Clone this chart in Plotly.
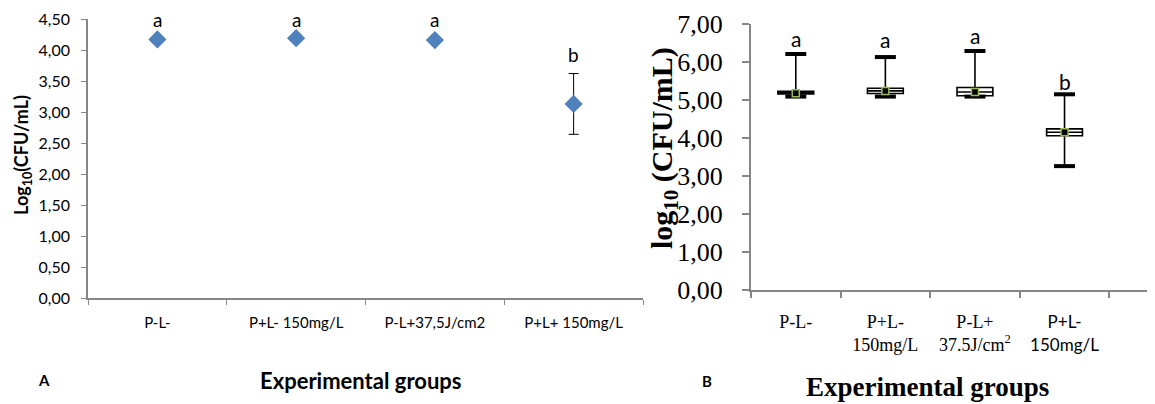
import plotly.graph_objects as go

# ---------------- data ----------------
groups_a = ["P-L-", "P+L- 150mg/L", "P-L+37,5J/cm2", "P+L+ 150mg/L"]
mean_a = [4.17, 4.19, 4.16, 3.13]
err_a = [0.02, 0.03, 0.02, 0.49]
letters_a = ["a", "a", "a", "b"]
letter_y_a = [4.50, 4.50, 4.50, 3.92]

groups_b = ["P-L-", "P+L-\n150mg/L", "P-L+\n37.5J/cm²", "P+L-\n150mg/L"]
lower_b = [5.09, 5.09, 5.09, 3.26]
q1_b = [5.16, 5.17, 5.11, 4.06]
center_b = [5.18, 5.24, 5.21, 4.15]
q3_b = [5.23, 5.31, 5.33, 4.24]
upper_b = [6.21, 6.13, 6.29, 5.15]
letters_b = ["a", "a", "a", "b"]
letter_y_b = [6.63, 6.58, 6.71, 5.50]

yticks_a = [0, 0.5, 1, 1.5, 2, 2.5, 3, 3.5, 4, 4.5]
yticks_b = [0, 1, 2, 3, 4, 5, 6, 7]

# ---------------- figure ----------------
OFF = 8                      # default page body margin
W, H = 1155 - OFF, 404 - OFF
fig = go.Figure()

pos_a = list(range(1, len(groups_a) + 1))
pos_b = list(range(1, len(groups_b) + 1))

AXIS_GRAY = "#868686"
SANS = "Lato, 'Open Sans', sans-serif"
SERIF = "'Liberation Serif', 'Times New Roman', serif"

# Panel A: diamonds with error bars
fig.add_trace(go.Scatter(
    x=pos_a, y=mean_a, mode="markers", xaxis="x", yaxis="y",
    marker=dict(symbol="diamond", size=14, color="#4F81BD"),
    error_y=dict(type="data", array=err_a, visible=True, color="#000000",
                 thickness=1, width=5),
    showlegend=False, hoverinfo="skip",
))

# Panel B: boxes
fills = ["#A6A6A6", "#FFFFFF", "#FFFFFF", "#FFFFFF"]
for i in range(len(groups_b)):
    fig.add_trace(go.Box(
        x=[pos_b[i]], q1=[q1_b[i]], median=[center_b[i]], q3=[q3_b[i]],
        lowerfence=[lower_b[i]], upperfence=[upper_b[i]],
        xaxis="x2", yaxis="y2", width=0.4, whiskerwidth=0.0,
        line=dict(color="#000000", width=1.6), fillcolor=fills[i],
        boxpoints=False, showlegend=False, hoverinfo="skip",
    ))
# whisker caps
fig.add_trace(go.Scatter(
    x=pos_b + pos_b, y=upper_b + lower_b, mode="markers", xaxis="x2", yaxis="y2",
    marker=dict(symbol="line-ew", size=15, line=dict(color="#000000", width=4)),
    showlegend=False, hoverinfo="skip",
))
# centre markers
fig.add_trace(go.Scatter(
    x=pos_b, y=center_b, mode="markers", xaxis="x2", yaxis="y2",
    marker=dict(symbol="square", size=7, color="#000000",
                line=dict(color="#9BBB59", width=1.5)),
    showlegend=False, hoverinfo="skip",
))

# ---------------- axes ----------------
def px_x(p):
    return (p - OFF) / W

def px_y(p):
    return 1 - (p - OFF) / H

fmt = lambda v: f"{v:.2f}".replace(".", ",")

ticktext_b = []
for i, g in enumerate(groups_b):
    lines = g.split("\n")
    lines = [l.replace("cm²", "cm<sup>2</sup>") for l in lines]
    if i == 3:
        lines = [f"<span style='font-family:Lato;font-size:17px'>{l}</span>" for l in lines]
    ticktext_b.append("<br>".join(lines))

fig.update_layout(
    width=W, height=H, autosize=False,
    margin=dict(l=0, r=0, t=0, b=0, pad=0),
    paper_bgcolor="white", plot_bgcolor="white",
    xaxis=dict(
        domain=[px_x(88), px_x(643)], range=[0.5, 4.5], anchor="y", automargin=False,
        tickmode="array", tickvals=pos_a, ticktext=groups_a, ticks="",
        showgrid=False, zeroline=False, showline=True, linecolor=AXIS_GRAY, linewidth=1.5,
        tickfont=dict(family=SANS, size=15, color="#000000"), ticklabelstandoff=10,
        minor=dict(tickmode="array", tickvals=[0.5, 1.5, 2.5, 3.5, 4.5], ticks="outside",
                   ticklen=5, tickcolor=AXIS_GRAY, tickwidth=1, showgrid=False),
        fixedrange=True,
    ),
    yaxis=dict(
        domain=[px_y(298), px_y(19)], range=[0, 4.5], anchor="x", automargin=False,
        tickmode="array", tickvals=yticks_a, ticktext=[fmt(v) for v in yticks_a],
        ticks="outside", ticklen=5, tickcolor=AXIS_GRAY,
        showgrid=False, zeroline=False, showline=True, linecolor=AXIS_GRAY, linewidth=1.5,
        tickfont=dict(family=SANS, size=16, color="#000000"), ticklabelstandoff=8,
        fixedrange=True,
    ),
    xaxis2=dict(
        domain=[px_x(751), 1.0], range=[0.5, 5.01], anchor="y2", automargin=False,
        tickmode="array", tickvals=pos_b, ticktext=ticktext_b, ticks="",
        showgrid=False, zeroline=False, showline=True, linecolor=AXIS_GRAY, linewidth=2,
        tickfont=dict(family=SERIF, size=18, color="#000000"), ticklabelstandoff=14,
        minor=dict(tickmode="array", tickvals=[0.5, 1.5, 2.5, 3.5, 4.5], ticks="outside",
                   ticklen=6, tickcolor=AXIS_GRAY, tickwidth=1.5, showgrid=False),
        fixedrange=True,
    ),
    yaxis2=dict(
        domain=[px_y(290), px_y(24)], range=[0, 7], anchor="x2", automargin=False,
        tickmode="array", tickvals=yticks_b, ticktext=[fmt(v) for v in yticks_b],
        ticks="outside", ticklen=7, tickcolor=AXIS_GRAY, tickwidth=1.5,
        showgrid=False, zeroline=False, showline=True, linecolor=AXIS_GRAY, linewidth=2,
        tickfont=dict(family=SERIF, size=26, color="#000000"), ticklabelstandoff=14,
        fixedrange=True,
    ),
)

ann = []
for xv, yv, t in zip(pos_a, letter_y_a, letters_a):
    ann.append(dict(x=xv, y=yv, xref="x", yref="y", text=t, showarrow=False,
                    xanchor="center", yanchor="middle",
                    font=dict(family=SANS, size=19, color="#000000")))
for xv, yv, t in zip(pos_b, letter_y_b, letters_b):
    ann.append(dict(x=xv, y=yv, xref="x2", yref="y2", text=t, showarrow=False,
                    xanchor="center", yanchor="middle",
                    font=dict(family=SANS, size=21, color="#000000")))

paper_texts = [
    (22, 155, "<b>Log<sub>10</sub>(CFU/mL)</b>", -90, SANS, 18),
    (360, 380, "<b>Experimental groups</b>", 0, SANS, 22),
    (44, 380, "<b>A</b>", 0, SANS, 15),
    (664, 148, "<b>log<sub>10</sub> (CFU/mL)</b>", -90, SERIF, 30),
    (927, 387, "<b>Experimental groups</b>", 0, SERIF, 27),
    (707, 381, "<b>B</b>", 0, SANS, 15),
]
for px, py, txt, ang, fam, sz in paper_texts:
    ann.append(dict(x=px_x(px), y=px_y(py), xref="paper", yref="paper",
                    text=txt, textangle=ang, showarrow=False,
                    xanchor="center", yanchor="middle",
                    font=dict(family=fam, size=sz, color="#000000")))
fig.update_layout(annotations=ann)

fig.write_html("out.html")
